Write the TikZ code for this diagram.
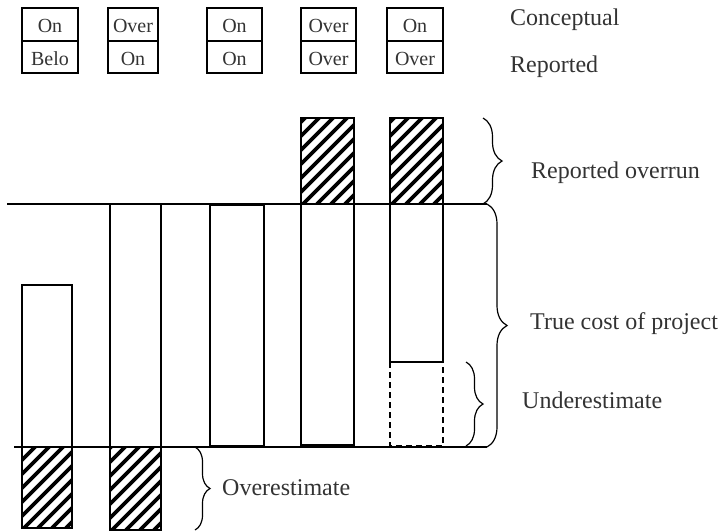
\documentclass[tikz,border=0pt]{standalone}
\usepackage{fontspec}
\setmainfont{Liberation Serif}
\usetikzlibrary{decorations.pathreplacing}
\definecolor{txt}{HTML}{333333}
\tikzset{
  lab/.style={anchor=base west, font=\fontsize{24}{24}\selectfont, text=txt, inner sep=0pt},
  cell/.style={anchor=base, font=\fontsize{20}{20}\selectfont, text=txt, inner sep=0pt},
  ln/.style={line width=1.4pt},
  brc/.style={decorate, decoration={brace, amplitude=#1}, line width=1.2pt},
  hatchline/.style={line width=3.8pt},
}
\newcommand\myhatch[4]{%
  \begin{scope}
    \clip (#1,#2) rectangle (#3,#4);
    \foreach \k in {-110,-96,...,70} { \draw[hatchline] ({#1+\k},#4) -- ++(130,-130); }
  \end{scope}
  \draw[ln] (#1,#2) rectangle (#3,#4);
}
\newcommand\mycell[5]{% x1,x2,top text,bottom text,name
  \draw[ln] (#1,8) rectangle (#2,73);
  \draw[ln] (#1,41) -- (#2,41);
  \node[cell] (#5t) at ({(#1+#2)/2},32) {#3};
  \node[cell] (#5b) at ({(#1+#2)/2},65) {#4};
}
\begin{document}
\begin{tikzpicture}[x=1pt,y=-1pt]
\useasboundingbox (0,0) rectangle (721,531);
% top boxes
\mycell{22}{78}{On}{Belo}{c1}
\mycell{108}{158}{Over}{On}{c2}
\mycell{207}{262}{On}{On}{c3}
\mycell{301}{356}{Over}{Over}{c4}
\mycell{387}{443}{On}{Over}{c5}
\node[lab] (concept) at (510,25) {Conceptual};
\node[lab] (report) at (510,72) {Reported};
% bars
\draw[ln] (22,285) rectangle (72,447);
\myhatch{22}{447}{72}{528}
\draw[ln] (110,204) rectangle (161,447);
\myhatch{110}{447}{161}{530}
\draw[ln] (210,205) rectangle (264,446);
\myhatch{301}{118}{354}{204}
\draw[ln] (301,204) rectangle (354,445);
\myhatch{390}{118}{443}{204}
\draw[ln] (390,204) rectangle (443,362);
\draw[line width=1.2pt, dash pattern=on 6pt off 4pt] (390,362) -- (390,446) -- (443,446) -- (443,362);
% horizontal lines
\coordinate (tl) at (7,204);
\coordinate (tr) at (487,204);
\coordinate (bl) at (14,447);
\coordinate (br) at (487,447);
\draw[ln] (tl) -- (tr);
\draw[ln] (bl) -- (br);
% braces
\coordinate (ro1) at (483,118);
\coordinate (ro2) at (483,204);
\draw[brc=19pt] (ro1) -- (ro2);
\draw[brc=20pt] (tr) -- (br);
\coordinate (ue1) at (466,362);
\coordinate (ue2) at (466,446);
\draw[brc=17pt] (ue1) -- (ue2);
\coordinate (oe1) at (195,447);
\coordinate (oe2) at (195,530);
\draw[brc=15pt] (oe1) -- (oe2);
% labels
\node[lab] (rover) at (531,178) {Reported overrun};
\node[lab] (tcost) at (530,329) {True cost of project};
\node[lab] (under) at (522,408) {Underestimate};
\node[lab] (over) at (222,495) {Overestimate};
\end{tikzpicture}
\end{document}
